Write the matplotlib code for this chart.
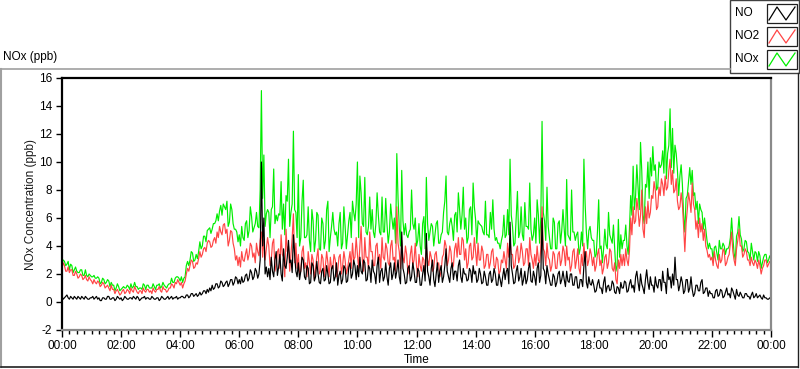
import numpy as np
import matplotlib
matplotlib.use("Agg")
import matplotlib.pyplot as plt
from matplotlib.lines import Line2D
from matplotlib.patches import Rectangle

# ---- data: readings every 2.5 minutes, 00:00 .. 24:00 (ppb); one line per hour ----
no = [
    0.4,0.2,0.3,0.4,0.5,0.3,0.2,0.4,0.3,0.2,0.4,0.3, 0.2,0.4,0.3,0.2,0.4,0.3,0.2,0.4,0.3,0.2,0.2,0.3,
    0.3,0.4,0.2,0.3,0.4,0.2,0.3,0.1,0.1,0.3,0.3,0.2, 0.2,0.4,0.4,0.2,0.2,0.3,0.3,0.1,0.2,0.4,0.3,0.2,
    0.3,0.1,0.2,0.4,0.3,0.2,0.2,0.3,0.3,0.2,0.4,0.3, 0.2,0.4,0.3,0.1,0.2,0.3,0.3,0.4,0.2,0.3,0.3,0.2,
    0.2,0.4,0.3,0.2,0.2,0.3,0.3,0.1,0.2,0.4,0.3,0.2, 0.2,0.3,0.4,0.2,0.3,0.4,0.2,0.3,0.3,0.4,0.2,0.3,
    0.3,0.4,0.4,0.3,0.3,0.5,0.5,0.3,0.4,0.6,0.6,0.4, 0.5,0.6,0.4,0.5,0.7,0.5,0.6,0.8,0.8,0.6,0.9,0.7,
    1.0,0.8,1.2,0.9,1.0,1.3,1.3,1.0,1.1,1.5,1.4,1.1, 1.2,1.4,1.5,1.1,1.3,1.6,1.6,1.2,1.4,1.8,1.7,1.3,
    1.6,1.3,1.8,1.4,1.5,1.9,2.0,1.5,1.7,2.3,2.1,1.6, 1.8,2.4,2.2,1.7,2.0,3.0,10.0,4.0,6.0,2.0,2.5,1.8,
    2.4,1.6,3.2,2.2,1.8,3.0,3.6,1.9,2.5,3.4,2.0,1.5, 3.8,2.6,2.4,3.2,4.4,2.8,3.0,2.1,4.8,3.4,2.2,1.8,
    2.8,1.6,2.2,3.2,3.0,1.8,1.6,2.6,2.4,1.3,1.4,2.8, 2.6,1.5,1.8,2.9,2.0,1.4,1.3,2.2,2.4,1.5,1.6,2.6,
    2.0,1.3,1.4,2.4,2.6,1.5,1.8,2.8,1.2,1.9,2.2,1.3, 1.6,2.6,2.4,1.4,1.5,2.5,2.8,1.7,2.0,3.0,2.6,1.6,
    2.6,1.8,3.2,2.2,2.0,3.0,2.8,1.5,1.6,2.6,2.4,1.4, 3.0,2.2,2.0,1.3,2.6,3.2,1.4,2.2,2.4,1.5,1.8,2.8,
    1.8,1.2,2.4,2.8,1.6,2.0,2.8,1.7,2.2,3.0,1.8,1.3, 5.0,2.4,2.0,1.3,1.4,2.4,2.6,1.5,1.8,2.8,2.2,1.4,
    1.4,2.4,2.2,1.2,1.2,2.0,2.6,1.5,4.9,2.2,1.8,1.2, 2.4,3.0,1.6,1.1,2.0,2.8,1.4,2.2,2.6,1.4,1.8,2.6,
    3.8,2.2,1.8,1.4,2.4,2.8,1.6,2.2,2.2,1.5,2.6,3.0, 1.8,1.4,2.4,2.0,2.0,1.5,1.6,2.4,2.2,1.4,2.6,2.0,
    2.2,1.4,1.6,2.4,2.0,1.3,1.4,2.2,1.8,1.2,1.2,2.0, 2.2,1.4,1.6,2.4,2.0,1.2,1.2,2.0,1.6,1.1,1.8,2.4,
    1.6,2.2,2.4,1.3,5.7,2.6,2.0,1.3,1.4,2.2,2.6,1.5, 1.8,2.4,1.2,1.6,2.2,1.3,1.6,2.4,2.8,1.5,1.4,2.2,
    1.8,1.2,2.4,2.8,1.4,1.9,6.0,2.4,2.2,1.3,2.6,2.0, 1.6,1.2,1.2,2.0,1.8,1.1,1.4,2.0,2.2,1.3,1.6,2.2,
    1.6,1.1,2.2,1.5,1.4,2.0,2.0,1.2,1.2,1.8,1.8,1.0, 1.0,1.6,1.6,1.1,2.6,3.6,1.4,1.0,1.8,1.3,1.2,1.6,
    1.2,0.7,0.8,1.3,1.6,1.0,1.0,0.6,1.4,1.8,0.7,1.1, 1.2,0.8,0.9,1.5,1.3,0.7,0.6,1.1,1.0,0.6,1.4,1.0,
    1.0,1.5,1.4,0.7,0.8,1.3,1.6,1.0,1.2,0.7,1.8,2.2, 1.4,0.8,2.0,1.3,1.0,0.6,1.6,2.3,1.4,0.9,1.8,1.2,
    1.2,0.7,1.8,1.2,1.0,1.6,1.6,0.8,2.2,1.4,1.4,0.6, 2.4,1.6,1.8,1.0,2.0,1.2,3.2,1.6,1.6,0.8,1.2,1.8,
    1.4,0.6,0.8,1.6,1.6,0.7,1.0,1.8,0.9,0.4,0.6,1.2, 1.2,0.8,0.8,1.4,1.6,0.6,0.7,1.0,1.0,0.4,0.8,0.6,
    0.6,0.3,0.3,0.8,0.9,0.4,0.5,0.9,0.8,0.3,0.4,0.7, 1.0,0.5,0.6,0.3,1.0,0.8,0.5,0.2,0.9,0.5,0.4,0.7,
    0.5,0.3,0.3,0.6,0.6,0.4,0.4,0.2,0.5,0.7,0.3,0.4, 0.6,0.3,0.4,0.5,0.3,0.2,0.5,0.3,0.3,0.2,0.2,0.3,
    0.2,
]
no2 = [
    2.4,2.8,2.6,2.2,2.2,2.5,2.1,2.3,2.3,1.9,1.9,2.2, 2.0,1.7,1.8,2.0,1.9,1.6,1.7,1.9,1.6,1.5,1.8,1.6,
    1.5,1.3,1.6,1.4,1.3,1.5,1.4,1.1,1.2,1.4,1.3,1.0, 1.1,1.2,1.0,0.8,1.2,0.9,0.9,0.6,0.8,0.9,0.7,0.5,
    0.6,0.8,0.9,0.6,0.7,0.9,0.8,0.6,1.0,0.8,0.7,1.1, 0.9,0.7,0.6,0.8,0.8,0.6,1.0,0.8,0.7,0.9,0.9,0.7,
    0.8,0.6,1.0,0.8,0.7,0.9,0.9,1.1,0.8,0.7,1.1,0.9, 0.9,0.7,0.8,1.0,1.0,1.3,1.2,1.0,1.4,1.3,1.6,1.4,
    1.2,1.4,1.0,1.3,1.5,2.0,2.4,2.2,2.6,3.0,2.9,2.4, 2.5,2.8,2.7,3.1,3.6,3.2,3.4,3.8,3.9,3.6,4.2,4.4,
    4.3,3.9,4.0,4.4,4.6,4.2,5.0,4.6,5.4,5.0,4.8,5.5, 5.6,4.9,5.2,4.0,4.4,5.1,5.0,4.2,3.8,3.0,3.3,2.6,
    3.2,2.5,3.6,3.0,2.9,3.4,3.8,3.0,3.4,4.2,4.0,3.2, 3.5,2.8,4.2,3.6,3.3,4.4,5.0,3.2,4.5,3.0,3.8,4.6,
    4.0,2.6,3.0,4.2,4.5,2.2,2.6,3.6,3.8,2.4,4.8,3.4, 3.2,1.8,5.2,3.6,4.0,2.2,3.4,4.6,6.3,2.8,4.2,2.4,
    3.4,2.0,2.2,3.6,4.0,2.4,2.8,1.8,3.6,2.8,2.0,3.4, 3.0,1.6,2.4,3.2,3.8,2.0,2.2,3.4,3.1,1.8,2.6,3.6,
    2.8,1.8,3.2,2.4,2.4,3.4,3.0,1.8,2.2,3.2,3.4,2.0, 2.6,3.6,3.0,2.0,2.4,3.0,3.6,2.4,4.2,3.0,3.2,4.6,
    3.4,2.4,4.0,5.4,3.0,2.2,4.6,3.2,3.2,2.4,5.0,3.6, 3.6,2.6,2.6,4.0,4.2,2.8,3.4,2.4,4.6,3.2,3.0,4.2,
    3.8,2.8,2.6,4.0,4.4,3.0,3.2,2.2,6.8,4.2,3.6,2.4, 4.4,3.2,2.8,4.0,3.4,2.0,2.4,3.4,4.0,2.6,3.0,4.2,
    2.6,1.8,3.4,2.6,2.2,3.2,3.0,2.0,4.0,3.0,2.6,3.6, 3.2,2.2,2.4,3.4,3.6,2.6,2.8,1.8,2.2,3.2,3.4,4.4,
    4.0,2.6,3.0,4.0,3.6,2.4,2.6,3.8,4.2,3.2,4.6,3.4, 3.4,4.6,4.4,3.0,3.8,2.4,2.8,4.0,4.2,3.0,3.2,4.6,
    3.6,2.6,4.2,3.0,3.0,4.0,3.6,2.4,2.6,3.4,3.4,2.4, 2.8,3.6,3.8,2.6,2.4,3.2,3.0,2.0,2.2,3.0,2.8,3.6,
    3.0,2.4,4.2,3.2,4.5,3.4,3.4,2.4,2.6,3.6,4.0,2.8, 3.2,4.2,3.6,2.6,2.8,3.8,3.8,2.6,4.6,3.4,3.0,2.4,
    3.4,2.6,4.0,3.0,2.8,3.8,6.8,3.8,3.6,2.6,4.2,3.2, 3.0,2.2,2.6,3.6,3.4,2.4,2.4,3.4,3.6,2.6,3.0,4.0,
    3.6,2.6,4.0,3.0,3.2,2.2,2.6,3.6,3.8,2.4,3.0,3.8, 2.4,2.0,3.4,2.6,4.2,3.0,3.6,2.6,3.0,3.8,3.4,2.6,
    3.2,2.2,2.6,3.4,3.8,2.6,3.0,2.0,2.4,3.2,3.4,2.4, 2.8,3.8,3.6,2.4,2.2,2.8,1.6,1.3,3.0,2.4,3.4,2.6,
    3.4,2.6,3.8,3.0,2.6,3.6,6.0,4.8,6.8,5.6,5.8,7.4, 6.6,5.4,6.2,8.0,5.2,4.6,6.8,5.6,7.2,6.0,6.4,7.6,
    7.4,8.6,8.0,6.6,6.8,8.2,7.6,8.8,8.4,7.6,9.0,8.0, 8.2,9.4,10.2,8.4,9.4,7.8,8.0,8.8,7.2,6.6,6.8,7.8,
    7.0,5.4,3.6,5.6,6.6,7.8,7.2,6.4,8.5,7.0,6.6,5.2, 5.8,4.6,6.0,5.0,5.6,4.4,5.2,4.0,3.7,3.2,3.4,3.0,
    3.2,2.6,3.6,3.0,2.6,2.4,3.4,2.8,3.0,3.8,3.6,2.6, 2.8,3.2,3.4,4.2,5.0,3.6,3.0,2.6,3.8,4.4,5.2,4.0,
    4.0,3.2,3.4,3.8,3.6,3.0,3.0,2.6,3.2,2.8,2.6,3.0, 2.8,2.4,3.0,2.6,2.0,2.4,2.6,3.0,3.0,2.5,2.7,2.9,
    2.8,
]
nox = [
    2.8,3.0,2.9,2.6,2.7,2.9,2.3,2.7,2.6,2.1,2.3,2.5, 2.2,2.1,2.1,2.3,2.3,1.9,1.9,2.3,1.9,1.8,2.0,1.9,
    1.8,1.8,1.9,1.7,1.7,1.8,1.7,1.3,1.4,1.7,1.6,1.3, 1.4,1.6,1.5,1.1,1.4,1.2,1.2,0.8,1.0,1.3,1.1,0.8,
    0.9,1.0,1.1,1.0,1.0,1.2,1.1,0.9,1.3,1.0,1.1,1.4, 1.1,1.1,0.9,1.0,1.0,0.9,1.3,1.2,0.9,1.2,1.2,1.0,
    1.0,1.0,1.3,1.1,0.9,1.2,1.2,1.3,1.0,1.1,1.4,1.2, 1.1,1.0,1.2,1.3,1.3,1.7,1.4,1.4,1.7,1.8,1.8,1.7,
    1.5,1.8,1.4,1.7,1.8,2.6,2.9,2.6,3.0,3.6,3.5,2.9, 3.0,3.4,3.1,3.6,4.3,3.8,4.0,4.7,4.7,4.3,5.1,5.2,
    5.3,4.9,5.2,5.6,5.6,5.8,6.3,5.8,6.5,6.9,6.2,7.0, 6.8,6.6,7.2,5.4,5.7,7.0,6.6,5.6,5.2,5.2,5.0,4.3,
    4.8,4.0,5.4,4.6,4.4,5.6,5.8,4.6,5.1,6.8,6.1,5.0, 5.3,5.6,6.4,5.4,5.3,8.0,15.1,7.4,10.5,5.4,6.3,6.6,
    6.4,4.6,6.6,6.8,9.5,5.6,6.2,5.8,6.3,6.2,8.6,5.2, 7.0,4.8,7.6,7.2,10.2,5.4,6.4,7.0,12.2,6.6,6.4,4.6,
    9.1,4.0,4.6,7.2,8.7,4.6,4.6,4.8,6.8,4.4,3.6,6.6, 5.8,3.6,4.4,6.4,6.2,3.8,3.7,6.0,5.6,3.8,4.4,6.6,
    7.2,3.6,4.6,5.4,6.4,5.2,4.8,5.0,4.0,5.6,6.4,3.8, 4.2,6.8,5.4,3.8,4.8,5.8,6.4,4.6,7.2,6.4,5.8,7.0,
    10.0,4.6,9.0,7.8,5.6,5.4,8.9,5.0,4.8,5.4,7.5,5.2, 6.6,5.0,4.6,5.6,7.8,6.2,5.0,4.8,7.5,5.0,5.0,7.4,
    5.6,4.2,5.0,7.0,6.0,5.2,6.0,4.2,10.6,7.4,5.4,4.0, 9.4,5.8,4.8,5.6,4.8,4.6,5.0,5.2,8.0,5.6,5.2,6.0,
    4.0,4.4,5.6,4.0,3.4,5.6,6.1,3.8,8.9,5.6,4.4,5.0, 5.6,5.4,4.0,4.8,5.6,5.8,4.2,4.2,4.8,5.0,6.4,7.2,
    9.0,5.0,4.8,5.6,6.0,5.4,4.4,6.2,6.4,5.0,7.8,6.6, 5.2,6.2,8.2,5.2,6.0,4.2,4.6,6.6,6.8,4.8,8.5,6.8,
    5.9,4.2,5.8,5.6,5.5,5.4,5.0,4.8,7.2,4.8,4.8,4.6, 6.4,5.2,7.3,5.2,4.4,4.6,4.2,4.2,3.8,4.4,4.8,6.2,
    4.6,4.8,6.6,4.8,10.2,6.2,5.4,4.0,4.2,6.0,7.9,4.6, 5.0,6.8,4.8,4.4,7.1,5.4,5.4,5.2,8.5,5.2,4.4,4.8,
    6.0,4.2,7.3,6.2,4.2,6.0,12.9,6.4,5.8,4.4,8.2,5.4, 4.6,3.8,3.8,6.0,5.7,3.8,3.8,5.6,5.8,4.2,5.1,6.6,
    5.2,4.0,8.75,4.8,4.6,4.4,8.0,5.0,5.0,4.4,4.8,5.0, 3.4,3.8,5.0,4.0,10.2,7.0,5.0,3.8,5.1,5.4,4.6,4.4,
    4.4,3.2,3.4,5.0,7.3,3.8,4.0,2.8,3.8,5.2,4.1,3.8, 6.4,4.8,4.5,4.2,5.5,3.8,2.2,2.6,5.9,3.2,4.8,3.8,
    4.4,4.4,5.5,4.0,3.4,5.2,7.6,6.2,9.7,6.6,7.6,9.8, 8.2,6.6,11.4,9.4,6.2,5.6,8.4,8.2,10.0,7.4,10.3,9.0,
    11.1,9.4,9.8,8.0,8.2,10.0,9.6,9.8,10.8,9.2,12.9,8.8, 10.6,11.2,13.8,9.6,12.4,9.2,11.2,10.6,9.4,7.6,9.0,9.8,
    8.4,6.2,5.0,7.4,7.6,8.6,9.6,8.4,9.4,7.6,7.8,6.6, 7.2,5.6,7.0,6.6,6.4,5.2,6.0,5.2,4.4,3.8,4.2,3.8,
    3.8,3.0,3.9,4.0,3.5,3.0,4.4,3.8,3.8,4.2,4.0,3.4, 3.8,3.8,4.0,4.6,6.0,4.6,3.5,3.0,4.7,5.0,6.1,4.8,
    4.5,3.6,3.8,4.4,4.3,3.6,3.5,3.0,4.2,3.6,3.0,3.6, 3.5,2.9,3.6,3.3,2.4,2.8,3.2,3.4,3.4,2.8,3.0,3.3,
    3.0,
]
series_names = ["NO", "NO2", "NOx"]
y_ticks = [-2, 0, 2, 4, 6, 8, 10, 12, 14, 16]
x_tick_labels = ["00:00", "02:00", "04:00", "06:00", "08:00", "10:00", "12:00",
                 "14:00", "16:00", "18:00", "20:00", "22:00", "00:00"]


def hours_for(series):
    return np.linspace(0, 24, len(series))


W, H = 800, 369
plt.rcParams["font.family"] = ["Liberation Sans", "DejaVu Sans"]

fig = plt.figure(figsize=(W / 100, H / 100), dpi=100)
fig.patch.set_facecolor("white")


def fx(px):
    return px / W


def fy(py):
    return 1 - py / H


# outer panel frame
fig.add_artist(Line2D([fx(1), fx(730)], [fy(69), fy(69)], color="#a0a0a0", lw=1.2))
fig.add_artist(Line2D([fx(1), fx(1)], [fy(69), fy(367)], color="#a0a0a0", lw=1.5))
fig.add_artist(Line2D([fx(1), fx(798)], [fy(367), fy(367)], color="#202020", lw=1.2))
fig.add_artist(Line2D([fx(798), fx(798)], [fy(73), fy(367)], color="#202020", lw=1.0))

ax = fig.add_axes([fx(62), fy(330), (771 - 62) / W, (330 - 78) / H])
ax.set_facecolor("white")

colors = {"NO": "#000000", "NO2": "#ff4545", "NOx": "#00ee00"}
ax.plot(hours_for(nox), nox, color=colors["NOx"], lw=0.85)
ax.plot(hours_for(no2), no2, color=colors["NO2"], lw=0.85)
ax.plot(hours_for(no), no, color=colors["NO"], lw=0.85)

ax.set_xlim(0, 24)
ax.set_ylim(-2, 16)
ax.set_yticks(y_ticks)
ax.set_yticklabels([str(v) for v in y_ticks], fontsize=8.5)
ax.set_xticks(np.arange(0, 25, 2))
ax.set_xticklabels(x_tick_labels, fontsize=8.5)
ax.set_xticks(np.arange(0, 24.01, 0.25), minor=True)
ax.tick_params(axis="y", direction="out", length=4, width=1, color="black", pad=3)
ax.tick_params(axis="x", which="major", direction="out", length=5, width=1, color="black", pad=2.5)
ax.tick_params(axis="x", which="minor", direction="out", length=3, width=1, color="black")

for side in ("left", "top"):
    ax.spines[side].set_color("black")
    ax.spines[side].set_linewidth(1.6)
for side in ("right", "bottom"):
    ax.spines[side].set_color("#8a8a8a")
    ax.spines[side].set_linewidth(1.6)

fig.text(fx(31), fy(204), "NOx Concentration (ppb)", rotation=90, ha="center", va="center",
         fontsize=8.5, color="#1a1a1a")
fig.text(fx(417), fy(360), "Time", ha="center", va="center", fontsize=8.5)
fig.text(fx(3), fy(57), "NOx (ppb)", ha="left", va="center", fontsize=8.5)

# legend panel
fig.add_artist(Rectangle((fx(730), fy(73)), (799 - 730) / W, 73 / H, facecolor="white",
                         edgecolor="#404040", lw=1.0, transform=fig.transFigure))
rows = [13, 36, 59]
for name, yc in zip(series_names, rows):
    fig.text(fx(735), fy(yc), name, ha="left", va="center", fontsize=8.5)
    fig.add_artist(Rectangle((fx(767), fy(yc + 9.5)), 30 / W, 19 / H, facecolor="white",
                             edgecolor="#202020", lw=0.9, transform=fig.transFigure))
    zx = [769, 777, 786, 795]
    zy = [yc + 7, yc - 6, yc + 7, yc - 6]
    fig.add_artist(Line2D([fx(v) for v in zx], [fy(v) for v in zy], color=colors[name], lw=0.9))

fig.savefig("out.png", dpi=100, facecolor="white")
